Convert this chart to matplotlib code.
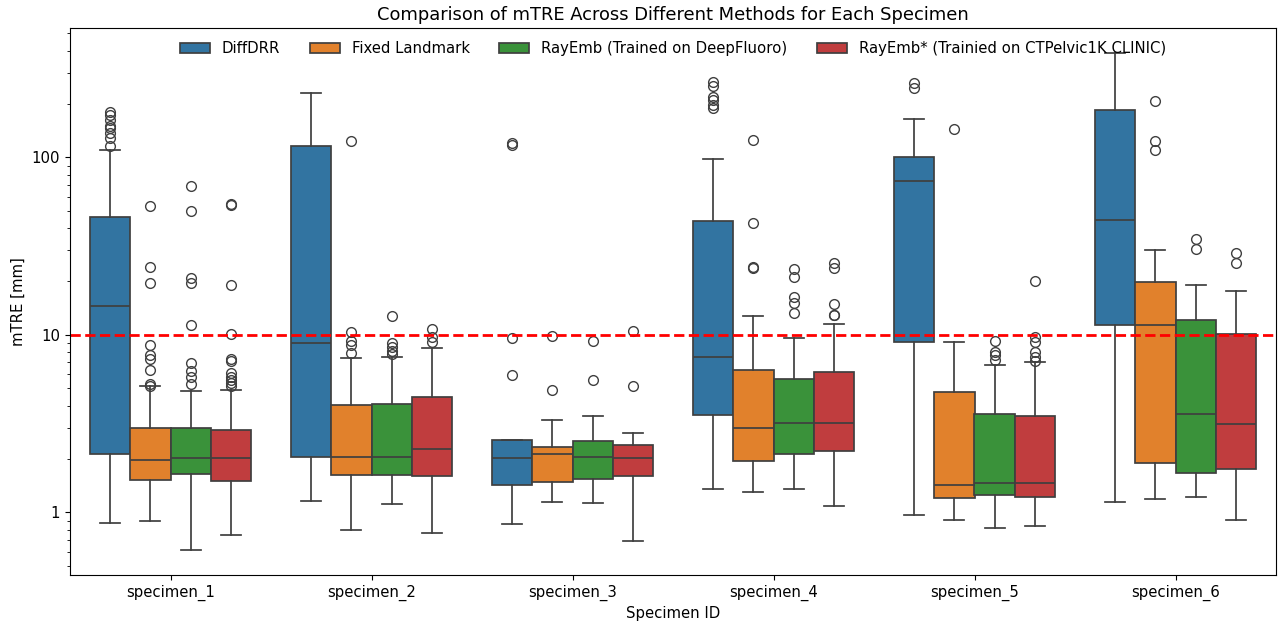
import matplotlib
matplotlib.use("Agg")
import matplotlib.pyplot as plt
from matplotlib.patches import Patch
from matplotlib.ticker import ScalarFormatter, NullFormatter

plt.rcParams["font.size"] = 10.7

specimens = ["specimen_1", "specimen_2", "specimen_3", "specimen_4", "specimen_5", "specimen_6"]
methods = ["DiffDRR", "Fixed Landmark", "RayEmb (Trained on DeepFluoro)",
           "RayEmb* (Trainied on CTPelvic1K CLINIC)"]
colors = ["#3274a1", "#e1812c", "#3a923a", "#c03d3e"]
threshold = 10

# DiffDRR
diffdrr_lo = [0.877, 1.156, 0.86, 1.35, 0.964, 1.14]
diffdrr_q1 = [2.14, 2.06, 1.42, 3.56, 9.14, 11.4]
diffdrr_med = [14.6, 9.01, 2.03, 7.49, 74.0, 44.6]
diffdrr_q3 = [46.4, 116.0, 2.57, 43.9, 100.7, 184.0]
diffdrr_hi = [110.0, 232.0, 2.57, 97.7, 165.0, 386.0]
diffdrr_fliers = [[180, 173, 163, 150, 147, 137, 129, 116], [], [120, 118, 9.65, 5.97],
                  [265, 254, 220, 211, 198, 189], [264, 245], []]

# Fixed Landmark
fixed_lo = [0.90, 0.794, 1.14, 1.31, 0.91, 1.19]
fixed_q1 = [1.53, 1.63, 1.49, 1.94, 1.21, 1.89]
fixed_med = [1.97, 2.06, 2.13, 3.0, 1.43, 11.4]
fixed_q3 = [3.0, 4.02, 2.34, 6.33, 4.77, 19.97]
fixed_hi = [5.14, 7.39, 3.32, 12.7, 9.14, 30.1]
fixed_fliers = [[53.1, 24.1, 19.5, 8.78, 7.69, 7.3, 6.35, 5.28, 5.16],
                [123, 10.35, 9.3, 8.8, 7.9], [9.87, 4.92],
                [126, 42.8, 24.1, 23.7], [145], [209, 124, 110]]

# RayEmb (Trained on DeepFluoro)
rayemb_lo = [0.617, 1.11, 1.13, 1.35, 0.815, 1.22]
rayemb_q1 = [1.65, 1.63, 1.55, 2.13, 1.26, 1.67]
rayemb_med = [2.03, 2.06, 2.06, 3.18, 1.47, 3.6]
rayemb_q3 = [3.0, 4.08, 2.53, 5.62, 3.6, 12.2]
rayemb_hi = [4.8, 7.5, 3.51, 9.65, 6.8, 19.1]
rayemb_fliers = [[69, 50, 20.9, 19.5, 11.3, 6.92, 6.27, 5.78, 5.28],
                 [12.7, 9.0, 8.6, 8.16, 7.8], [9.29, 5.58],
                 [23.5, 21.3, 16.4, 15.1, 13.3], [9.29, 8.06, 7.7, 7.23], [34.7, 30.6]]

# RayEmb* (Trainied on CTPelvic1K CLINIC)
rayembs_lo = [0.747, 0.77, 0.69, 1.09, 0.836, 0.91]
rayembs_q1 = [1.51, 1.6, 1.6, 2.21, 1.22, 1.76]
rayembs_med = [2.03, 2.27, 2.03, 3.18, 1.47, 3.14]
rayembs_q3 = [2.92, 4.46, 2.39, 6.16, 3.51, 10.1]
rayembs_hi = [4.88, 8.41, 2.81, 11.5, 7.0, 17.7]
rayembs_fliers = [[55, 54, 19.2, 10.1, 7.36, 7.16, 6.08, 5.78, 5.58, 5.34, 5.16],
                  [10.85, 9.78, 9.1], [10.53, 5.14],
                  [25.4, 23.8, 15, 13, 12.9], [20, 9.7, 9.17, 8.06, 7.55, 7.14], [28.9, 25.3]]

series = [
    (diffdrr_lo, diffdrr_q1, diffdrr_med, diffdrr_q3, diffdrr_hi, diffdrr_fliers),
    (fixed_lo, fixed_q1, fixed_med, fixed_q3, fixed_hi, fixed_fliers),
    (rayemb_lo, rayemb_q1, rayemb_med, rayemb_q3, rayemb_hi, rayemb_fliers),
    (rayembs_lo, rayembs_q1, rayembs_med, rayembs_q3, rayembs_hi, rayembs_fliers),
]

fig = plt.figure(figsize=(12.79, 6.25), dpi=100)
ax = fig.add_axes([70 / 1279, 50 / 625, 1206 / 1279, 547 / 625])

line_c = "#3f3f3f"
n = len(methods)
w = 0.8 / n
for i, (lo, q1, med, q3, hi, fl) in enumerate(series):
    stats = []
    for j in range(len(specimens)):
        stats.append(dict(whislo=lo[j], q1=q1[j], med=med[j], q3=q3[j], whishi=hi[j], fliers=fl[j]))
    positions = [j + (i - (n - 1) / 2) * w for j in range(len(specimens))]
    ax.bxp(stats, positions=positions, widths=w, patch_artist=True, capwidths=w / 2,
           boxprops=dict(facecolor=colors[i], edgecolor=line_c, linewidth=1.25),
           medianprops=dict(color=line_c, linewidth=1.25),
           whiskerprops=dict(color=line_c, linewidth=1.25),
           capprops=dict(color=line_c, linewidth=1.25),
           flierprops=dict(marker="o", markersize=7, markerfacecolor="none",
                           markeredgecolor=line_c, markeredgewidth=1.0, linestyle="none"))

ax.axhline(threshold, color="red", linestyle="--", linewidth=2)
ax.set_yscale("log")
ax.set_ylim(0.444, 536)
ax.set_xlim(-0.5, len(specimens) - 0.5)
ax.set_xticks(range(len(specimens)))
ax.set_xticklabels(specimens)
ax.yaxis.set_major_formatter(ScalarFormatter())
ax.yaxis.set_minor_formatter(NullFormatter())
ax.set_xlabel("Specimen ID")
ax.set_ylabel("mTRE [mm]")
ax.set_title("Comparison of mTRE Across Different Methods for Each Specimen", fontsize=12.85)

handles = [Patch(facecolor=c, edgecolor=line_c, linewidth=1.25) for c in colors]
ax.legend(handles, methods, loc="upper center", ncol=4, frameon=False)

fig.savefig("out.png", dpi=100)
